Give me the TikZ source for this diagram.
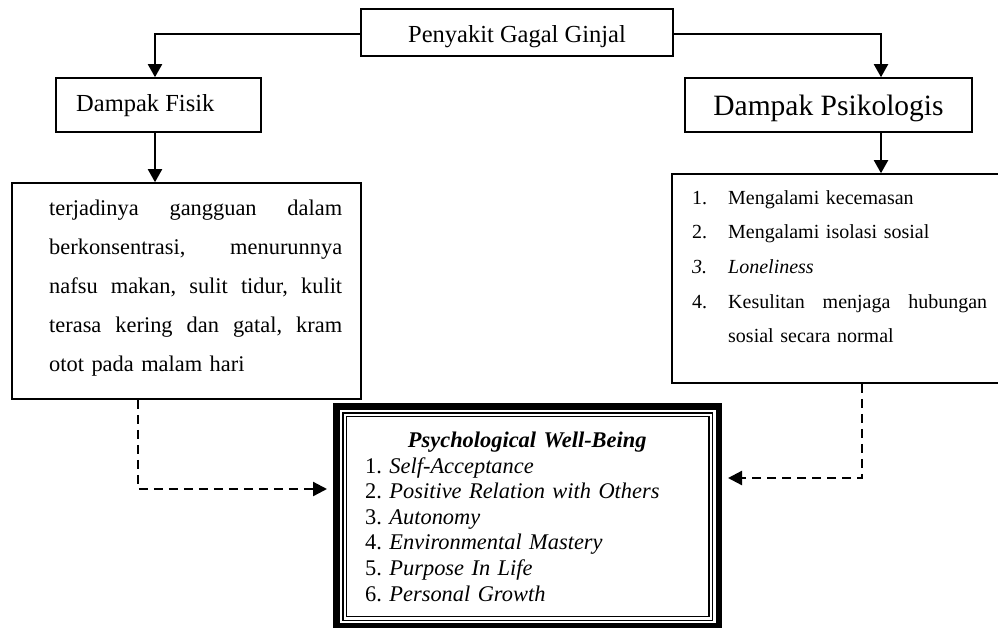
\documentclass[tikz,border=0pt]{standalone}
\usepackage{fontspec}
\setmainfont{Liberation Serif}
\usetikzlibrary{arrows.meta,calc}
\frenchspacing
\begin{document}
\begin{tikzpicture}[x=1pt,y=-1pt,
  box/.style={draw,line width=1.6pt,inner sep=0pt},
  txt/.style={inner sep=0pt},
  arr/.style={line width=2pt,-{Triangle[width=14pt,length=13pt]}},
  darr/.style={line width=2.3pt,dash pattern=on 9pt off 6pt,-{Triangle[width=14pt,length=14pt]}},
  fbig/.style={font=\fontsize{24.5}{29}\selectfont},
  fbody/.style={font=\fontsize{22.4}{39}\selectfont},
  flist/.style={font=\fontsize{20}{34.6}\selectfont},
  fpwb/.style={font=\fontsize{22.4}{25.6}\selectfont},
]
\useasboundingbox (0,0) rectangle (998,627);

% boxes
\node[box,minimum width=312pt,minimum height=47pt] (top) at (517,32.5) {};
\node[box,minimum width=205pt,minimum height=54pt] (fisik) at (158.5,105) {};
\node[box,minimum width=287pt,minimum height=54pt] (psiko) at (828.5,105) {};
\node[box,minimum width=349pt,minimum height=216pt] (lbox) at (186.5,291) {};
\node[box,minimum width=338pt,minimum height=209pt] (rbox) at (841,278.5) {};
\node[draw,line width=1.2pt,inner sep=0pt,minimum width=362.5pt,minimum height=200pt] (pwb) at (527.75,516.5) {};
\draw[line width=1.2pt] ([shift={(-3pt,3pt)}]pwb.north west) rectangle ([shift={(3pt,-3pt)}]pwb.south east);
\draw[line width=6.5pt] ([shift={(-9.5pt,9.5pt)}]pwb.north west) rectangle ([shift={(9.5pt,-9.5pt)}]pwb.south east);

% texts
\node[txt,fbig,anchor=base] (topt) at (517,42.7) {Penyakit Gagal Ginjal};
\node[txt,fbig,anchor=base west] (fisikt) at (76,111.7) {Dampak Fisik};
\node[txt,font=\fontsize{29.5}{35}\selectfont,anchor=base] (psikot) at (828.5,115) {Dampak Psikologis};

\node[txt,fbody,anchor=north west,text width=300pt,align=left] (lboxt) at (49,187.7)
{\strut\makebox[293pt][l]{terjadinya\hfill gangguan\hfill dalam}\\
\makebox[293pt][l]{berkonsentrasi,\hfill menurunnya}\\
\makebox[293pt][l]{nafsu\hfill makan,\hfill sulit\hfill tidur,\hfill kulit}\\
\makebox[293pt][l]{terasa\hfill kering\hfill dan\hfill gatal,\hfill kram}\\
otot pada malam hari};

\node[txt,flist,anchor=north west,text width=300pt,align=left] (rboxt) at (692,179.8)
{\strut\makebox[36pt][l]{1.}Mengalami kecemasan\\
\makebox[36pt][l]{2.}Mengalami isolasi sosial\\
\makebox[36pt][l]{\itshape 3.}\textit{Loneliness}\\
\makebox[36pt][l]{4.}\makebox[259pt][l]{Kesulitan\hfill menjaga\hfill hubungan}\\
\hspace*{36pt}sosial secara normal};

\node[txt,fpwb,anchor=north west,text width=330pt,align=left] (pwbt) at (365,429.4)
{\strut\makebox[324pt][c]{\bfseries\itshape Psychological Well-Being}\\
1. \textit{Self-Acceptance}\\
2. \textit{Positive Relation with Others}\\
3. \textit{Autonomy}\\
4. \textit{Environmental Mastery}\\
5. \textit{Purpose In Life}\\
6. \textit{Personal Growth}};

% connectors
\draw[arr] ([yshift=-1.5pt]top.west) -| ([xshift=-3.5pt]fisik.north);
\draw[arr] ([yshift=-1.5pt]top.east) -| ([xshift=52.5pt]psiko.north);
\draw[arr] ([xshift=-3.5pt]fisik.south) -- ([xshift=-3.5pt]fisik.south |- lbox.north);
\draw[arr] ([xshift=52.5pt]psiko.south) -- ([xshift=52.5pt]psiko.south |- rbox.north);
\coordinate (la) at (327,489);
\coordinate (ra) at (728,478);
\draw[darr] ([xshift=-48.5pt]lbox.south) |- (la);
\draw[darr] ([xshift=21pt]rbox.south) |- (ra);
\end{tikzpicture}
\end{document}
